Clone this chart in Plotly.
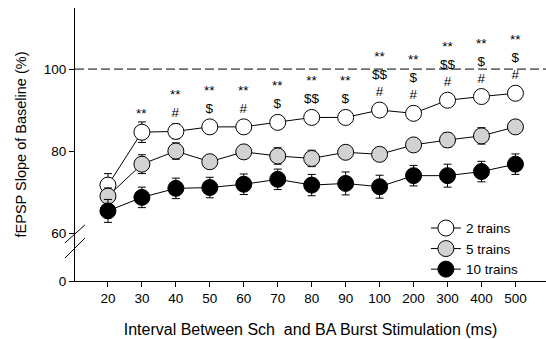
import plotly.graph_objects as go

intervals = ["20", "30", "40", "50", "60", "70", "80", "90", "100", "200", "300", "400", "500"]
two_trains = [71.7, 84.6, 84.8, 85.9, 85.9, 87.0, 88.2, 88.2, 90.0, 89.2, 92.4, 93.3, 94.1]
two_err = [2.8, 2.5, 1.8, 1.5, 1.5, 1.5, 1.5, 1.5, 1.5, 1.5, 1.5, 1.5, 1.5]
five_trains = [69.0, 76.8, 80.0, 77.4, 79.8, 78.8, 78.2, 79.7, 79.2, 81.5, 82.7, 83.7, 85.9]
five_err = [2.0, 2.3, 2.0, 1.5, 1.5, 2.0, 2.0, 1.5, 1.5, 1.5, 1.8, 2.0, 1.5]
ten_trains = [65.4, 68.7, 70.9, 71.1, 71.9, 73.1, 71.7, 72.1, 71.3, 74.0, 74.0, 75.0, 76.8]
ten_err = [2.8, 2.5, 2.5, 2.5, 2.5, 2.5, 2.6, 2.8, 2.8, 2.5, 2.8, 2.5, 2.5]
sig_labels = ["", "**", "**<br>#", "**<br>$", "**<br>#", "**<br>$", "**<br>$$", "**<br>$",
              "**<br>$$<br>#", "**<br>$<br>#", "**<br>$$<br>#", "**<br>$<br>#", "**<br>$<br>#"]
y_tick_vals = [100, 80, 60]
y_tick_text = ["100", "80", "60", "0"]
baseline = 100

FONT = "Arial, Liberation Sans, sans-serif"
xpos = list(range(len(intervals)))
ZERO_POS = 48.3  # axis bottom represents 0 (broken axis)

fig = go.Figure()

series = [
    ("2 trains", two_trains, two_err, "white"),
    ("5 trains", five_trains, five_err, "#d2d2d2"),
    ("10 trains", ten_trains, ten_err, "black"),
]
for name, vals, err, fill in series:
    fig.add_trace(go.Scatter(
        x=xpos, y=vals, name=name, mode="lines+markers",
        line=dict(color="black", width=1),
        marker=dict(size=16, color=fill, line=dict(color="black", width=1)),
        error_y=dict(type="data", array=err, visible=True, color="black", thickness=1, width=4),
    ))

for i, lab in enumerate(sig_labels):
    if lab:
        fig.add_annotation(x=xpos[i], y=two_trains[i], text=lab, showarrow=False,
                           yanchor="bottom", yshift=9, font=dict(size=13.5, color="black", family=FONT))

fig.add_shape(type="line", xref="paper", x0=0, x1=1, yref="y", y0=baseline, y1=baseline,
              line=dict(color="black", width=1, dash="9px,4px"))
# axis break marks
for (ya, yb) in [(57.6, 62.0), (53.9, 58.8)]:
    fig.add_shape(type="line", xref="paper", yref="y", x0=-10/471, x1=10/471, y0=ya, y1=yb,
                  line=dict(color="black", width=1))

fig.update_layout(
    width=546, height=339,
    margin=dict(l=75, r=0, t=8, b=58),
    plot_bgcolor="white", paper_bgcolor="white",
    font=dict(family=FONT, size=13, color="black"),
    showlegend=True,
    legend=dict(x=0.745, y=0.25, xanchor="left", yanchor="top", bgcolor="rgba(0,0,0,0)",
                font=dict(size=13.5, family=FONT), tracegroupgap=0),
    xaxis=dict(range=[-0.97, 12.9], tickvals=xpos, ticktext=intervals, showline=True,
               linecolor="black", linewidth=1, ticks="outside", ticklen=5, tickcolor="black",
               showgrid=False, zeroline=False, tickfont=dict(size=13.5, family=FONT),
               title=dict(text="Interval Between Sch\u00a0 and BA Burst Stimulation (ms)",
                          font=dict(size=16, family=FONT), standoff=18)),
    yaxis=dict(range=[ZERO_POS, 114.9], tickvals=y_tick_vals + [ZERO_POS], ticktext=y_tick_text,
               showline=True, linecolor="black", linewidth=1, ticks="outside", ticklen=5,
               tickcolor="black", showgrid=False, zeroline=False, tickfont=dict(size=13.5, family=FONT),
               title=dict(text="fEPSP Slope of Baseline (%)", font=dict(size=14.5, family=FONT), standoff=13)),
)

fig.write_html("out.html")
